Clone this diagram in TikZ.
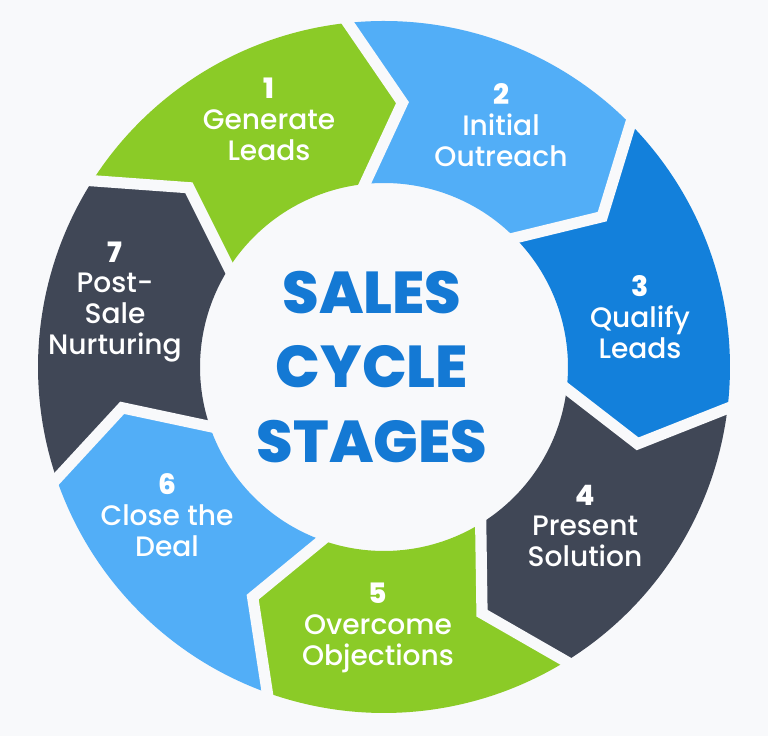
\documentclass[tikz,border=0pt]{standalone}
\usepackage{fontspec}
\setmainfont{Poppins}
\newfontfamily\stagefont{Poppins Medium}
\newfontfamily\titlefont{Poppins ExtraBold}
\usepackage{tikz}

\definecolor{stagegreen}{HTML}{8BCB27}
\definecolor{stagesky}{HTML}{52AEF7}
\definecolor{stageblue}{HTML}{1380DB}
\definecolor{stageslate}{HTML}{404756}
\definecolor{titleblue}{HTML}{1479D4}
\definecolor{paper}{HTML}{F8F9FB}

\begin{document}
\begin{tikzpicture}[
    stagetext/.style={text=white, align=center, font=\stagefont\fontsize{20}{22}\selectfont},
    gapline/.style={draw=paper, line width=8pt, line join=miter, line cap=rect},
]
    % Background (fixes the picture size)
    \fill[paper] (-9.6,-9.225) rectangle (9.6,9.175);

    % Ring radii: outer, inner, middle (chevron tips)
    \def\Ro{8.65} \def\Ri{4.6} \def\Rm{6.625}

    % Stage segments, clockwise from the top left
    \foreach \a/\col in {147.43/stagegreen, 96/stagesky, 44.57/stageblue, -6.86/stageslate,
                         -58.29/stagegreen, -109.71/stagesky, -161.14/stageslate}
        \fill[\col] (\a:\Ro) arc[start angle=\a, end angle=\a-51.43, radius=\Ro]
            -- (\a-61.43:\Rm) -- (\a-51.43:\Ri)
            arc[start angle=\a-51.43, end angle=\a, radius=\Ri]
            -- (\a-10:\Rm) -- cycle;

    % Gaps between the stages
    \foreach \b in {147.43, 96, 44.57, -6.86, -58.29, -109.71, -161.14}
        \draw[gapline] (\b:\Ro) -- (\b-10:\Rm) -- (\b:\Ri);

    % Stage labels
    \node[stagetext] (s1) at (-2.875,6.2) {\textbf{1}\\Generate\\Leads};
    \node[stagetext] (s2) at (2.925,6.05) {\textbf{2}\\Initial\\Outreach};
    \node[stagetext] (s3) at (6.4,1.25) {\textbf{3}\\Qualify\\Leads};
    \node[stagetext] (s4) at (5.025,-3.975) {\textbf{4}\\Present\\Solution};
    \node[stagetext] (s5) at (-0.15,-6.525) {\textbf{5}\\Overcome\\Objections};
    \node[stagetext] (s6) at (-5.425,-3.7) {\textbf{6}\\Close the\\Deal};
    \node[stagetext] (s7) at (-6.725,1.625) {\textbf{7}\\Post-\\Sale\\Nurturing};

    % Centre title
    \node[text=titleblue, align=center, font=\titlefont\fontsize{42}{53}\selectfont] (title) at (-0.3,0) {SALES\\CYCLE\\STAGES};
\end{tikzpicture}
\end{document}
